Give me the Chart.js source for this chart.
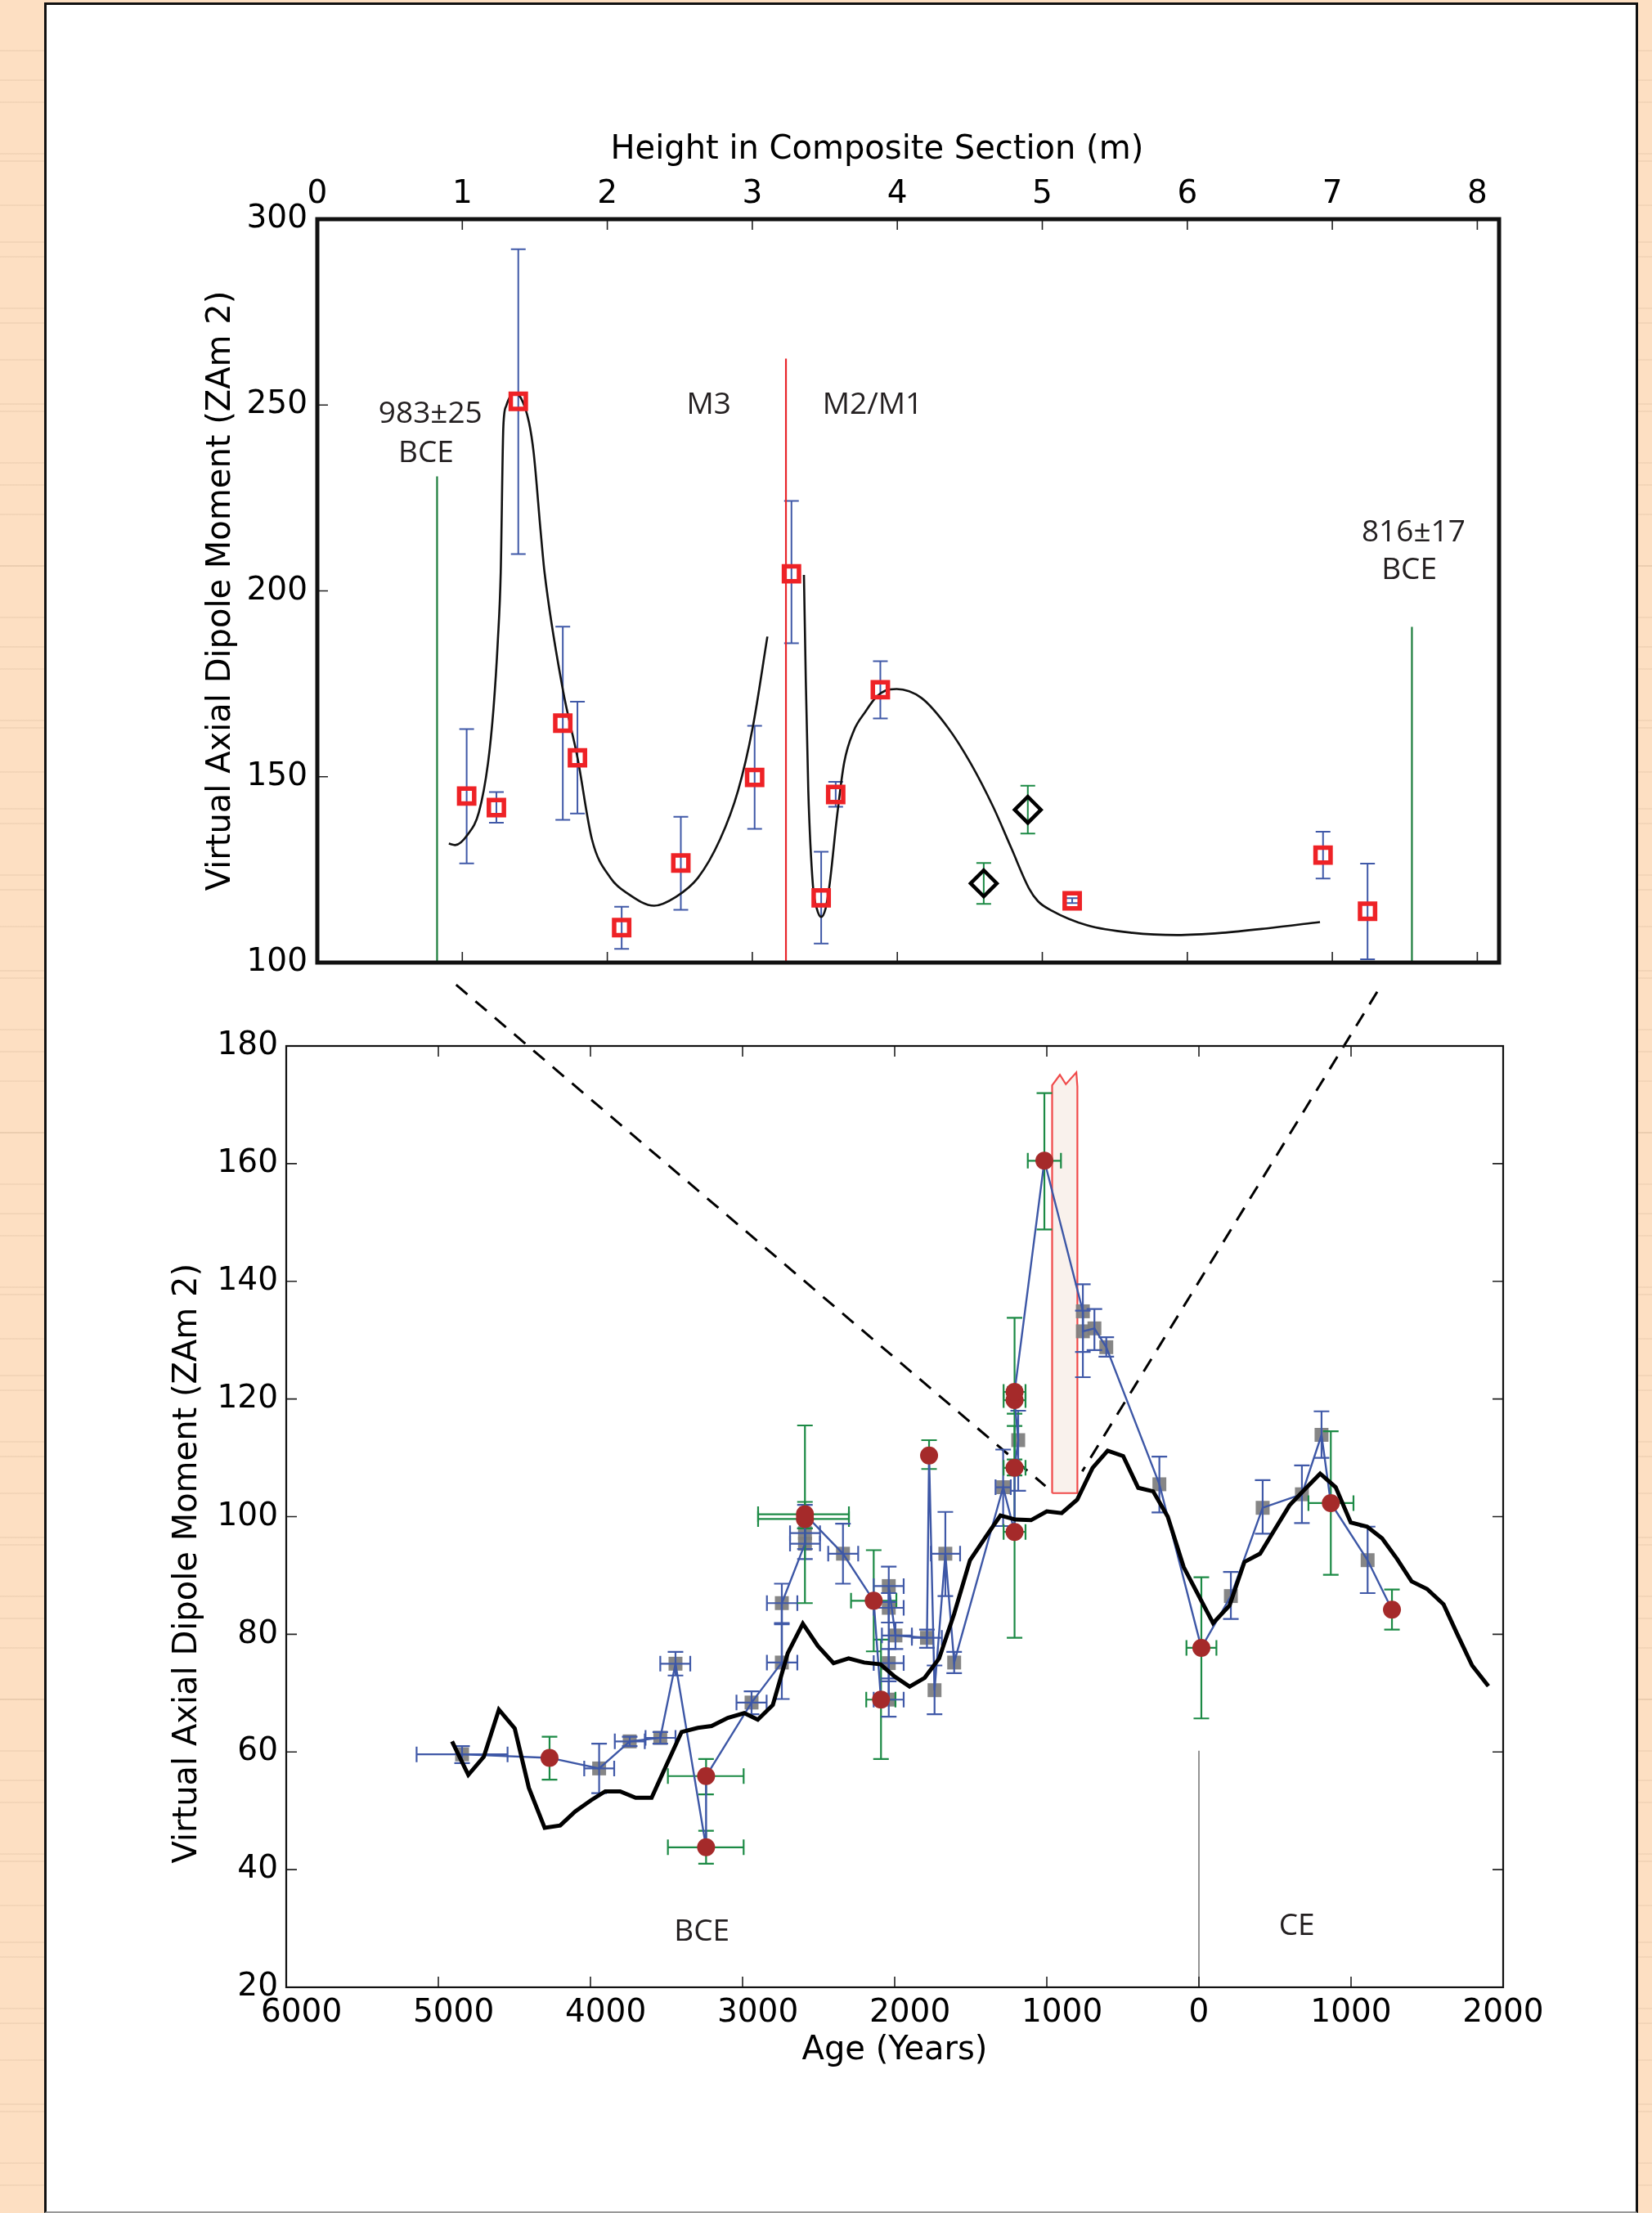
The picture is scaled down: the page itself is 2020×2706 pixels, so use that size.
<!DOCTYPE html>
<html>
<head>
<meta charset="utf-8">
<script src="https://cdn.jsdelivr.net/npm/chart.js@4.4.1/dist/chart.umd.min.js"></script>
<style>
  html, body { margin: 0; padding: 0; }
  body {
    width: 2020px; height: 2706px; position: relative; overflow: hidden;
    background:
      repeating-linear-gradient(180deg, transparent 0 61px, rgba(200, 170, 140, 0.18) 61px 63px),
      repeating-linear-gradient(180deg, transparent 0 97px, rgba(190, 160, 130, 0.16) 97px 99px),
      #fddfc2;
  }
  #panel {
    position: absolute; left: 54px; top: 3px; width: 1949px; height: 2703px;
    box-sizing: border-box; background: #fff;
    border: 3px solid #111; border-bottom: 2px solid #999;
  }
  canvas { position: absolute; left: 0; }
  #topChart { top: 0; }
  #bottomChart { top: 1180px; }
</style>
</head>
<body>
<div id="panel"></div>
<canvas id="topChart" width="2020" height="1240"></canvas>
<canvas id="bottomChart" width="2020" height="1526"></canvas>
<script>
// ---------- top panel: height in composite section ----------
const sqHeight  = [1.030, 1.235, 1.386, 1.693, 1.794, 2.099, 2.507, 3.016, 3.270, 3.475, 3.575, 3.883, 5.206, 6.936, 7.243];
const sqVADM    = [144.8, 141.7, 251.0, 164.4, 155.1, 109.4, 126.8, 149.8, 204.6, 117.4, 145.2, 173.4, 116.6, 128.9, 113.8];
const sqErrHigh = [162.8, 145.9, 291.9, 190.4, 170.2, 115.0, 139.2, 163.7, 224.2, 129.8, 148.6, 181.1, 117.3, 135.2, 126.6];
const sqErrLow  = [126.7, 137.6, 209.9, 138.4, 140.1, 103.7, 114.2, 136.0, 185.9, 105.1, 141.9, 165.7, 116.0, 122.6, 100.9];

const dmHeight  = [4.596, 4.900];
const dmVADM    = [121.3, 141.1];
const dmErrHigh = [126.8, 147.6];
const dmErrLow  = [115.8, 134.7];

// fitted curve, lower section (M3)
const fitAHeight = [0.907, 0.950, 1.038, 1.114, 1.177, 1.215, 1.245, 1.265, 1.283, 1.302, 1.357, 1.404, 1.460, 1.492, 1.542, 1.567, 1.693, 1.795, 1.895, 2.020, 2.147, 2.323, 2.474, 2.625, 2.777, 2.902, 3.002, 3.104];
const fitAVADM   = [132.0, 131.6, 134.5, 140.4, 153.6, 168.3, 186.6, 205.0, 244.2, 249.7, 253.1, 251.9, 245.3, 237.2, 215.2, 205.0, 173.5, 155.0, 133.0, 122.9, 118.4, 115.3, 117.7, 122.8, 133.1, 146.3, 163.1, 187.7];
// fitted curve, upper section (M2/M1)
const fitBHeight = [3.356, 3.369, 3.386, 3.418, 3.445, 3.475, 3.505, 3.532, 3.583, 3.633, 3.700, 3.780, 3.856, 3.920, 3.995, 4.166, 4.351, 4.506, 4.661, 4.785, 4.909, 4.970, 5.063, 5.311, 5.621, 5.930, 6.240, 6.549, 6.915];
const fitBVADM   = [204.3, 175.7, 146.3, 120.7, 114.5, 112.3, 114.5, 120.7, 138.9, 153.7, 162.4, 167.5, 171.5, 173.2, 173.6, 171.2, 163.1, 153.6, 141.9, 130.9, 119.9, 116.5, 114.0, 110.0, 108.0, 107.4, 108.0, 109.2, 110.9];

const markerHeight = [0.826, 3.232, 7.549];
const markerTop    = [230.8, 262.5, 190.3];
const markerColor  = ['#1c7d3c', '#e8262b', '#1c7d3c'];

const topNoteText   = ['983\u00B125', 'BCE', 'M3', 'M2/M1', '816\u00B117', 'BCE'];
const topNoteHeight = [0.78, 0.75, 2.70, 3.83, 7.56, 7.53];
const topNoteVADM   = [247.6, 237.0, 249.9, 249.9, 215.7, 205.5];

// ---------- bottom panel: age ----------
const ageYears = [-4844, -4269, -3943, -3742, -3541, -3441, -3240, -3240, -2941, -2742, -2742, -2590, -2590, -2590, -2590, -2340,
  -2138, -2090, -2039, -2039, -2039, -2039, -1995, -1788, -1774, -1738, -1667, -1609, -1287, -1212, -1212, -1188, -1212, -1212,
  -1016, -763, -763, -687, -609, -260, 16, 210, 419, 677, 806, 867, 1109, 1269];
const vadm = [59.6, 59.0, 57.2, 61.8, 62.4, 75.0, 43.8, 55.9, 68.4, 75.2, 85.3, 95.4, 97.2, 99.6, 100.4, 93.7,
  85.7, 68.9, 68.9, 75.1, 84.5, 88.2, 79.8, 79.4, 110.4, 70.5, 93.7, 75.2, 105.0, 97.4, 108.3, 113.0, 119.8, 121.2,
  160.5, 134.9, 131.5, 132.0, 128.8, 105.5, 77.7, 86.5, 101.5, 103.8, 113.9, 102.3, 92.6, 84.2];
// 's' = grey square (blue bars), 'c' = red circle (green bars)
const method = ['s', 'c', 's', 's', 's', 's', 'c', 'c', 's', 's', 's', 's', 's', 'c', 'c', 's',
  'c', 'c', 's', 's', 's', 's', 's', 's', 'c', 's', 's', 's', 's', 'c', 'c', 's', 'c', 'c',
  'c', 's', 's', 's', 's', 's', 'c', 's', 's', 's', 's', 'c', 's', 'c'];
const vadmLow = [58.1, 55.3, 53.0, 61.0, 61.4, 73.0, 41.0, 52.8, 66.4, 69.0, 81.9, 92.8, 94.5, 85.3, 98.0, 88.6,
  77.1, 58.8, 66.0, 72.5, 82.0, 85.5, 77.5, 77.7, 108.1, 66.4, 86.5, 73.4, 98.4, 79.4, 107.0, 104.4, 117.5, 108.6,
  148.8, 123.7, 128.0, 128.3, 127.2, 100.7, 65.7, 82.6, 97.1, 98.9, 110.0, 90.1, 87.0, 80.8];
const vadmHigh = [61.0, 62.6, 61.4, 62.6, 63.4, 77.0, 46.6, 58.8, 70.3, 81.7, 88.6, 98.0, 102.0, 115.5, 102.5, 98.8,
  94.3, 79.1, 72.0, 77.5, 87.0, 91.5, 82.0, 80.8, 113.0, 74.7, 100.8, 77.0, 111.4, 115.4, 109.7, 118.0, 122.0, 133.8,
  172.0, 139.5, 135.0, 135.3, 130.5, 110.2, 89.7, 90.6, 106.2, 108.7, 117.9, 114.5, 98.3, 87.6];
const ageLow = [-5143, null, -4041, -3840, -3638, -3541, -3491, -3491, -3040, -2840, -2840, -2688, -2688, -2898, -2898, -2437,
  -2287, -2187, -2138, -2138, -2138, -2138, -2084, -1887, null, null, -1762, null, -1337, -1284, -1284, null, -1284, -1284,
  -1125, null, null, null, null, null, -82, null, null, null, null, 720, null, null];
const ageHigh = [-4545, null, -3844, -3643, -3441, -3344, -2993, -2993, -2842, -2640, -2640, -2491, -2491, -2301, -2301, -2240,
  -1989, -1995, -1941, -1941, -1941, -1941, -1887, -1690, null, null, -1570, null, -1237, -1140, -1140, null, -1140, -1140,
  -907, null, null, null, null, null, 115, null, null, null, null, 1016, null, null];

// reference curve
const curveAge  = [-4910, -4803, -4701, -4602, -4498, -4405, -4301, -4199, -4100, -3996, -3903, -3805, -3703, -3598, -3500, -3401,
  -3294, -3204, -3097, -2989, -2900, -2801, -2703, -2604, -2505, -2402, -2303, -2201, -2093, -2004, -1902, -1803, -1708, -1609,
  -1505, -1403, -1305, -1206, -1104, -1000, -902, -800, -699, -600, -498, -399, -301, -205, -100, 93, 201, 299, 402, 496, 595,
  694, 797, 899, 998, 1106, 1204, 1303, 1398, 1500, 1608, 1697, 1796, 1903];
const curveVADM = [61.8, 56.1, 59.2, 67.2, 64.0, 53.9, 47.1, 47.5, 49.9, 51.8, 53.3, 53.3, 52.2, 52.2, 57.8, 63.4,
  64.1, 64.4, 65.8, 66.6, 65.5, 68.0, 76.8, 81.8, 78.0, 75.1, 75.9, 75.2, 74.9, 72.9, 71.1, 72.6, 75.9, 83.5,
  92.6, 96.5, 100.2, 99.5, 99.4, 100.9, 100.6, 102.9, 108.3, 111.2, 110.3, 104.9, 104.3, 100.0, 91.4, 81.9, 84.9, 92.3, 93.7, 97.7, 101.9,
  104.6, 107.3, 105.0, 99.0, 98.3, 96.3, 92.8, 89.0, 87.7, 85.1, 80.1, 74.7, 71.2];

// age window of the section
const boxAge  = [-965, -965, -914, -875, -806, -799, -799, -965];
const boxVADM = [104.0, 173.3, 175.1, 173.5, 175.5, 173.1, 104.0, 104.0];

const leftLinkAge  = [-4883, -1009];
const leftLinkVADM = [190.4, 105.2];
const rightLinkAge  = [1172, -767];
const rightLinkVADM = [189.2, 107.7];

const eraLineAge  = [0, 0];
const eraLineVADM = [20, 60.2];

const botNoteText = ['BCE', 'CE'];
const botNoteAge  = [-3268, 643];
const botNoteVADM = [29.4, 30.3];

// ---------- helpers ----------
const pts = (xs, ys) => xs.map((x, i) => ({ x: x, y: ys[i] }));
const pick = (kind) => ageYears.map((a, i) => ({ x: a, y: vadm[i] })).filter((p, i) => method[i] === kind);
const NB = '\u00A0';

Chart.defaults.font.family = "'DejaVu Sans', sans-serif";
Chart.defaults.color = '#000';
Chart.defaults.animation = false;

function errorBar(ctx, xs, ys, x, y, lo, hi, xlo, xhi, cap) {
  const px = xs.getPixelForValue(x);
  const py = ys.getPixelForValue(y);
  ctx.beginPath();
  if (lo != null) {
    const a = ys.getPixelForValue(lo), b = ys.getPixelForValue(hi);
    ctx.moveTo(px, a); ctx.lineTo(px, b);
    ctx.moveTo(px - cap, a); ctx.lineTo(px + cap, a);
    ctx.moveTo(px - cap, b); ctx.lineTo(px + cap, b);
  }
  if (xlo != null) {
    const a = xs.getPixelForValue(xlo), b = xs.getPixelForValue(xhi);
    ctx.moveTo(a, py); ctx.lineTo(b, py);
    ctx.moveTo(a, py - cap); ctx.lineTo(a, py + cap);
    ctx.moveTo(b, py - cap); ctx.lineTo(b, py + cap);
  }
  ctx.stroke();
}

function framePlugin(lineWidth, tickLen, sides) {
  return {
    id: 'frame',
    afterDatasetsDraw(chart) {
      const { ctx, chartArea: a } = chart;
      const xs = chart.scales.x, ys = chart.scales.y;
      ctx.save();
      ctx.strokeStyle = '#222';
      ctx.lineWidth = 1.6;
      ctx.beginPath();
      xs.ticks.forEach(t => {
        const p = xs.getPixelForValue(t.value);
        if (p < a.left + 3 || p > a.right - 3) return;
        if (sides.top) { ctx.moveTo(p, a.top); ctx.lineTo(p, a.top + tickLen); }
        if (sides.bottom) { ctx.moveTo(p, a.bottom); ctx.lineTo(p, a.bottom - tickLen); }
      });
      ys.ticks.forEach(t => {
        const p = ys.getPixelForValue(t.value);
        if (p < a.top + 3 || p > a.bottom - 3) return;
        if (sides.left) { ctx.moveTo(a.left, p); ctx.lineTo(a.left + tickLen, p); }
        if (sides.right) { ctx.moveTo(a.right, p); ctx.lineTo(a.right - tickLen, p); }
      });
      ctx.stroke();
      ctx.strokeStyle = '#111';
      ctx.lineWidth = lineWidth;
      ctx.strokeRect(a.left, a.top, a.right - a.left, a.bottom - a.top);
      ctx.restore();
    }
  };
}

function notesPlugin(text, xv, yv, size) {
  return {
    id: 'notes',
    afterDatasetsDraw(chart) {
      const { ctx } = chart;
      ctx.save();
      ctx.fillStyle = '#231f20';
      ctx.font = size + "px 'Open Sans', sans-serif";
      ctx.textAlign = 'center';
      ctx.textBaseline = 'middle';
      text.forEach((t, i) => {
        ctx.fillText(t, chart.scales.x.getPixelForValue(xv[i]), chart.scales.y.getPixelForValue(yv[i]));
      });
      ctx.restore();
    }
  };
}

const topErrors = {
  id: 'topErrors',
  beforeDatasetsDraw(chart) {
    const { ctx } = chart;
    const xs = chart.scales.x, ys = chart.scales.y;
    ctx.save();
    ctx.lineWidth = 2;
    ctx.strokeStyle = '#4059a8';
    sqHeight.forEach((h, i) => errorBar(ctx, xs, ys, h, sqVADM[i], sqErrLow[i], sqErrHigh[i], null, null, 9));
    ctx.strokeStyle = '#1c8a45';
    dmHeight.forEach((h, i) => errorBar(ctx, xs, ys, h, dmVADM[i], dmErrLow[i], dmErrHigh[i], null, null, 9));
    ctx.restore();
  }
};

// error bars go right after the grey squares, so the crosses sit on them
const GREY_INDEX = 6;
const bottomErrors = {
  id: 'bottomErrors',
  afterDatasetDraw(chart, args) {
    if (args.index !== GREY_INDEX) return;
    const { ctx } = chart;
    const xs = chart.scales.x, ys = chart.scales.y;
    ctx.save();
    ctx.lineWidth = 2.2;
    ageYears.forEach((a, i) => {
      ctx.strokeStyle = method[i] === 'c' ? '#1c8a45' : '#4059a8';
      errorBar(ctx, xs, ys, a, vadm[i], vadmLow[i], vadmHigh[i], ageLow[i], ageHigh[i], 9.5);
    });
    ctx.restore();
  }
};

// ---------- top chart ----------
const topDatasets = markerHeight.map((h, i) => ({
  data: pts([h, h], [100, markerTop[i]]),
  showLine: true, borderColor: markerColor[i], borderWidth: 2.2, pointRadius: 0, order: 10
}));
topDatasets.push(
  { data: pts(fitAHeight, fitAVADM), showLine: true, borderColor: '#111', borderWidth: 2.6,
    cubicInterpolationMode: 'monotone', pointRadius: 0, order: 8 },
  { data: pts(fitBHeight, fitBVADM), showLine: true, borderColor: '#111', borderWidth: 2.6,
    cubicInterpolationMode: 'monotone', pointRadius: 0, order: 8 },
  { data: pts(sqHeight, sqVADM), pointStyle: 'rect', pointRadius: 13, borderWidth: 5.5,
    pointBorderColor: '#ee2226', pointBackgroundColor: 'rgba(0,0,0,0)', order: 5 },
  { data: pts(dmHeight, dmVADM), pointStyle: 'rectRot', pointRadius: 16, borderWidth: 4.5,
    pointBorderColor: '#000', pointBackgroundColor: 'rgba(0,0,0,0)', order: 5 }
);

new Chart(document.getElementById('topChart'), {
  type: 'scatter',
  data: { datasets: topDatasets },
  options: {
    responsive: false,
    devicePixelRatio: 1,
    events: [],
    layout: { padding: { left: 200, top: 140, right: 187, bottom: 63 } },
    plugins: { legend: { display: false }, tooltip: { enabled: false } },
    scales: {
      x: {
        type: 'linear', position: 'top', min: 0, max: 8.15,
        grid: { display: false, drawTicks: false },
        border: { display: false },
        ticks: { stepSize: 1, includeBounds: false, autoSkip: false, maxRotation: 0, padding: 7, font: { size: 39 } },
        title: { display: true, text: 'Height in Composite Section (m)' + NB.repeat(6), font: { size: 40 },
          padding: { top: 20, bottom: 0 } },
        afterFit: (s) => { s.height = 128; }
      },
      y: {
        type: 'linear', min: 100, max: 300,
        grid: { display: false, drawTicks: false },
        border: { display: false },
        ticks: { stepSize: 50, padding: 12, font: { size: 39 } },
        title: { display: true, text: 'Virtual Axial Dipole Moment (ZAm 2)', font: { size: 40 }, padding: { top: 47, bottom: 0 } },
        afterFit: (s) => { s.width = 188; }
      }
    }
  },
  plugins: [topErrors, framePlugin(5, 13, { top: true, bottom: true, left: true, right: false }),
    notesPlugin(topNoteText, topNoteHeight, topNoteVADM, 37)]
});

// ---------- bottom chart ----------
new Chart(document.getElementById('bottomChart'), {
  type: 'scatter',
  data: {
    datasets: [
      { data: pts(boxAge, boxVADM), showLine: true, fill: 'shape', backgroundColor: '#f9f1ec',
        borderColor: '#f04a4a', borderWidth: 2.2, pointRadius: 0, tension: 0, order: 12 },
      { data: pts(eraLineAge, eraLineVADM), showLine: true, borderColor: '#7a7a7a', borderWidth: 1.6, pointRadius: 0, order: 11 },
      { data: pts(leftLinkAge, leftLinkVADM), showLine: true, borderColor: '#000', borderWidth: 3,
        borderDash: [18, 13], pointRadius: 0, clip: false, order: 11 },
      { data: pts(rightLinkAge, rightLinkVADM), showLine: true, borderColor: '#000', borderWidth: 3,
        borderDash: [18, 13], pointRadius: 0, clip: false, order: 11 },
      { data: pts(ageYears, vadm), showLine: true, borderColor: '#3d57a6', borderWidth: 2.4, pointRadius: 0, order: 7 },
      { data: pts(curveAge, curveVADM), showLine: true, borderColor: '#000', borderWidth: 5,
        borderJoinStyle: 'miter', pointRadius: 0, order: 6 },
      { data: pick('s'), pointStyle: 'rect', pointRadius: 12, pointBackgroundColor: 'rgba(128,128,128,0.95)',
        pointBorderWidth: 0, order: 9 },
      { data: pick('c'), pointStyle: 'circle', pointRadius: 11, pointBackgroundColor: '#a52a2a',
        pointBorderWidth: 0, order: 4 }
    ]
  },
  options: {
    responsive: false,
    devicePixelRatio: 1,
    events: [],
    layout: { padding: { left: 180, top: 99, right: 182, bottom: 100 } },
    plugins: { legend: { display: false }, tooltip: { enabled: false } },
    scales: {
      x: {
        type: 'linear', position: 'bottom', min: -6000, max: 2000,
        grid: { display: false, drawTicks: false },
        border: { display: false },
        ticks: {
          stepSize: 1000, autoSkip: false, maxRotation: 0, padding: 8, font: { size: 39 },
          callback: (v) => v < 0 ? '\u2007 ' + (-v) : String(v)
        },
        title: { display: true, text: 'Age (Years)', font: { size: 40 }, padding: { top: 0, bottom: 74 } },
        afterFit: (s) => { s.height = 176; }
      },
      y: {
        type: 'linear', min: 20, max: 180,
        grid: { display: false, drawTicks: false },
        border: { display: false },
        ticks: { stepSize: 20, padding: 10, font: { size: 39 } },
        title: { display: true, text: 'Virtual Axial Dipole Moment (ZAm 2)' + NB.repeat(9),
          font: { size: 40 }, padding: { top: 26, bottom: 0 } },
        afterFit: (s) => { s.width = 170; }
      }
    }
  },
  plugins: [bottomErrors, framePlugin(2.2, 13, { top: true, bottom: true, left: true, right: true }),
    notesPlugin(botNoteText, botNoteAge, botNoteVADM, 37)]
});
</script>
</body>
</html>
